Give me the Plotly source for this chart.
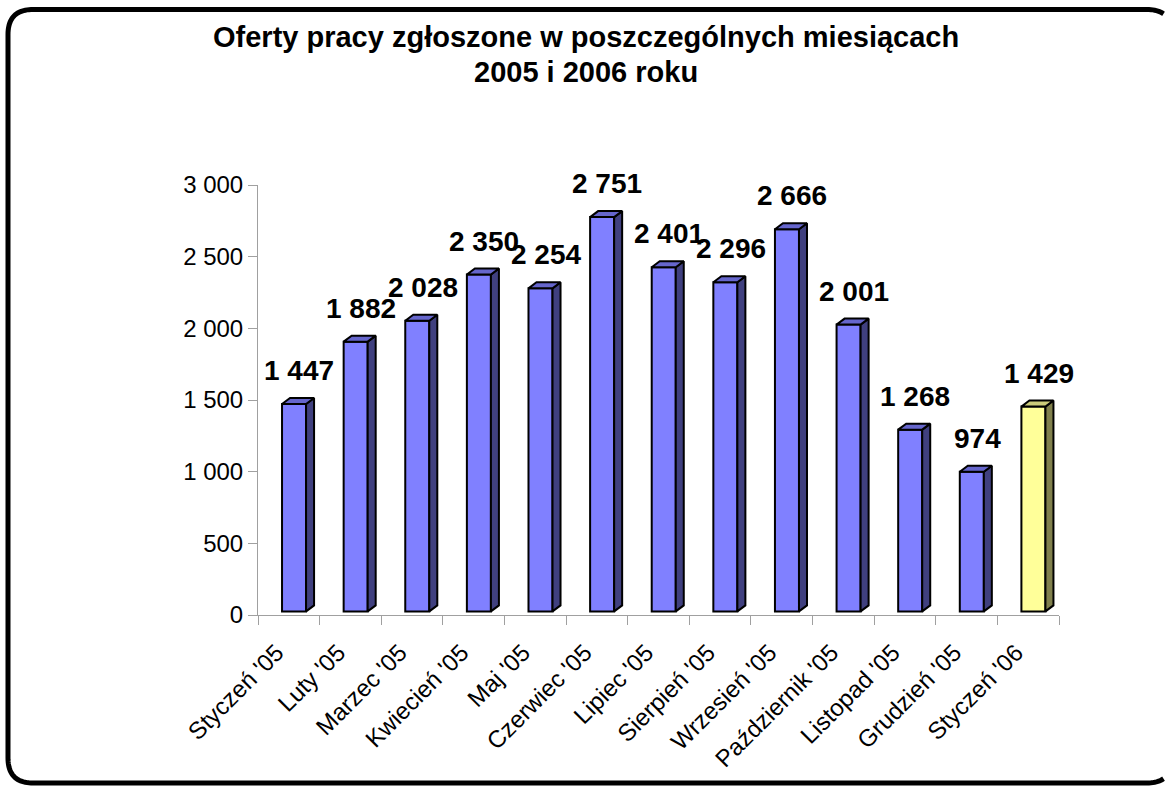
import plotly.graph_objects as go

# ---- data ----
months = ["Styczeń '05", "Luty '05", "Marzec '05", "Kwiecień '05", "Maj '05",
          "Czerwiec '05", "Lipiec '05", "Sierpień '05", "Wrzesień '05",
          "Październik '05", "Listopad '05", "Grudzień '05", "Styczeń '06"]
offers = [1447, 1882, 2028, 2350, 2254, 2751, 2401, 2296, 2666, 2001, 1268, 974, 1429]
is_2006 = [False] * 12 + [True]
y_ticks = [0, 500, 1000, 1500, 2000, 2500, 3000]
title_lines = ["Oferty pracy zgłoszone w poszczególnych miesiącach", "2005 i 2006 roku"]

# ---- style ----
FONT = "Liberation Sans, Arial, sans-serif"
FLOOR = 25          # pseudo-3D floor lift (data units)
FRONT_L = -0.11     # front face left edge relative to category centre
FRONT_W = 0.39      # front face width (category units)
DX = 0.13           # depth shift in x (category units)
DY = 42             # depth shift in y (data units)
AXIS_GRAY = "#a0a0a0"
palettes = {
    False: dict(front="#8080FF", side="#40407F", top="#6666CC"),
    True: dict(front="#FFFF99", side="#80804C", top="#CCCC7A"),
}

W, H = 1166, 787
# plot area in page pixels: x 258..1059, y 185..615
L, T = 258, 185
R, B = W - 1059, H - 615
pw, ph = W - L - R, H - T - B


def px_to_paper(px, py):
    return (px - L) / pw, (H - B - py) / ph


fig = go.Figure()

for flag in (False, True):
    pal = palettes[flag]
    idx = [i for i in range(len(offers)) if is_2006[i] == flag]
    vals = [offers[i] for i in idx]
    fig.add_trace(go.Bar(
        x=idx, y=vals, base=FLOOR, width=FRONT_W, offset=FRONT_L,
        marker=dict(color=pal["front"], line=dict(color="black", width=2)),
        hoverinfo="skip", showlegend=False))
    sx, sy, tx, ty = [], [], [], []
    for i, v in zip(idx, vals):
        x0 = i + FRONT_L
        x1 = x0 + FRONT_W
        top = v + FLOOR
        sx += [x1, x1 + DX, x1 + DX, x1, x1, None]
        sy += [FLOOR, FLOOR + DY, top + DY, top, FLOOR, None]
        tx += [x0, x0 + DX, x1 + DX, x1, x0, None]
        ty += [top, top + DY, top + DY, top, top, None]
    fig.add_trace(go.Scatter(x=sx, y=sy, mode="lines", fill="toself",
                             fillcolor=pal["side"], line=dict(color="black", width=2),
                             hoverinfo="skip", showlegend=False))
    fig.add_trace(go.Scatter(x=tx, y=ty, mode="lines", fill="toself",
                             fillcolor=pal["top"], line=dict(color="black", width=2),
                             hoverinfo="skip", showlegend=False))

annotations = []
for i, v in enumerate(offers):
    annotations.append(dict(
        x=i + 0.17, y=v, xref="x", yref="y", yshift=37,
        text=f"{v:,}".replace(",", " "), showarrow=False,
        font=dict(family=FONT, size=28, color="black", weight="bold"),
        xanchor="center", yanchor="middle"))

for line, py in zip(title_lines, (37, 72)):
    xp, yp = px_to_paper(586, py)
    annotations.append(dict(
        x=xp, y=yp, xref="paper", yref="paper", text=f"<b>{line}</b>",
        showarrow=False, font=dict(family=FONT, size=29, color="black"),
        xanchor="center", yanchor="middle"))

# rounded frame (page pixels); its right side lies beyond the page, so the
# path is cut at XCUT to keep everything inside the figure.
bx0, by0, bx1, by1, rr = 8, 9.5, 1172, 783, 25
XCUT = 1164


def corner(p0, c, p2, n=24, cut=None):
    pts = []
    for k in range(n + 1):
        t = k / n
        x = (1 - t) ** 2 * p0[0] + 2 * t * (1 - t) * c[0] + t * t * p2[0]
        y = (1 - t) ** 2 * p0[1] + 2 * t * (1 - t) * c[1] + t * t * p2[1]
        if cut is not None and x > cut:
            break
        pts.append((x, y))
    return pts


top_right = corner((bx1 - rr, by0), (bx1, by0), (bx1, by0 + rr), cut=XCUT)[::-1]
top_left = corner((bx0 + rr, by0), (bx0, by0), (bx0, by0 + rr))
bot_left = corner((bx0, by1 - rr), (bx0, by1), (bx0 + rr, by1))
bot_right = corner((bx1 - rr, by1), (bx1, by1), (bx1, by1 - rr), cut=XCUT)
frame_pts = top_right + top_left + bot_left + bot_right
frame_pts = frame_pts + frame_pts[-2::-1]   # retrace so the path ends where it starts
path = "M " + " L ".join("%.5f,%.5f" % px_to_paper(x, y) for x, y in frame_pts)

fig.update_layout(
    width=W, height=H, autosize=False,
    margin=dict(l=L, r=R, t=T, b=B, pad=0),
    paper_bgcolor="white", plot_bgcolor="white",
    separators=", ",
    barmode="overlay",
    font=dict(family=FONT, size=24, color="black"),
    annotations=annotations,
    shapes=[dict(type="path", path=path, xref="paper", yref="paper",
                 line=dict(color="black", width=5), fillcolor="rgba(0,0,0,0)")],
    xaxis=dict(type="linear", range=[-0.5, len(months) - 0.5],
               tickmode="array", tickvals=list(range(len(months))), ticktext=months,
               tickangle=-45, ticks="", showgrid=False, zeroline=False,
               showline=True, linecolor=AXIS_GRAY, linewidth=1,
               ticklabelstandoff=13, ticklabelshift=-12,
               tickfont=dict(family=FONT, size=24, color="black"),
               minor=dict(tickmode="array",
                          tickvals=[i - 0.5 for i in range(len(months) + 1)],
                          ticks="outside", ticklen=9, tickcolor=AXIS_GRAY, tickwidth=1,
                          showgrid=False)),
    yaxis=dict(range=[0, 3000], tickmode="array", tickvals=y_ticks, tickformat=",d",
               ticks="outside", ticklen=9, tickcolor=AXIS_GRAY, tickwidth=1,
               showgrid=False, zeroline=False, showline=True, linecolor=AXIS_GRAY,
               linewidth=1, tickfont=dict(family=FONT, size=24, color="black")),
)

fig.write_html("out.html", config={"displayModeBar": False},
               post_script="document.body.style.margin='0px';"
                           "document.documentElement.style.overflow='hidden';")
